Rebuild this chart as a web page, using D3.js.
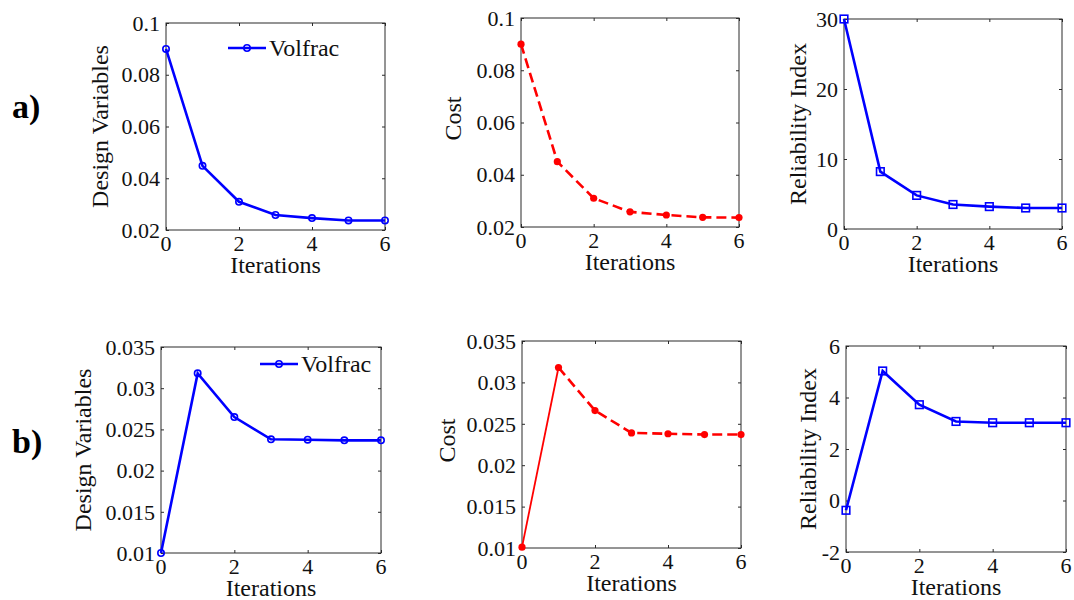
<!DOCTYPE html>
<html lang="en">
<head>
<meta charset="UTF-8">
<title>Iteration history</title>
<script src="https://d3js.org/d3.v7.min.js"></script>
<style>
  body { margin: 0; background: #fff; }
  text { font-family: 'Liberation Serif', 'DejaVu Serif', serif; }
</style>
</head>
<body>
<div id="chart"></div>
<script>
// data
const iterations = [0, 1, 2, 3, 4, 5, 6];
const designA = [0.09, 0.0448, 0.0309, 0.0258, 0.0246, 0.0237, 0.0237];
const costA = [0.09, 0.0450, 0.0310, 0.0258, 0.0246, 0.0237, 0.0236];
const reliabilityA = [30, 8.2, 4.8, 3.5, 3.2, 3.0, 3.0];
const designB = [0.01, 0.0318, 0.0265, 0.0238, 0.02375, 0.02367, 0.02367];
const costB = [0.0101, 0.0318, 0.0266, 0.0239, 0.0238, 0.0237, 0.0237];
const reliabilityB = [-0.38, 5.03, 3.72, 3.07, 3.02, 3.02, 3.02];

const xTicks = [0, 2, 4, 6];
const ticksA = [0.02, 0.04, 0.06, 0.08, 0.1];
const ticksRelA = [0, 10, 20, 30];
const ticksB = [0.01, 0.015, 0.02, 0.025, 0.03, 0.035];
const ticksRelB = [-2, 0, 2, 4, 6];
const legendLabel = "Volfrac";
const rowLabels = ["a)", "b)"];

const W = 1074, H = 600;
const FONT = "'Liberation Serif', 'DejaVu Serif', serif";
const svg = d3.select("#chart").append("svg").attr("width", W).attr("height", H)
  .attr("font-family", FONT);

// panel layout
const panels = [
  { box: [166, 23, 385, 230], y: designA, dom: [0.02, 0.1], ticks: ticksA, label: "Design Variables", lx: 100, kind: "design", legend: [228, 48] },
  { box: [521, 18, 739, 227], y: costA, dom: [0.02, 0.1], ticks: ticksA, label: "Cost", lx: 453, kind: "cost" },
  { box: [844, 19, 1062, 229], y: reliabilityA, dom: [0, 30], ticks: ticksRelA, label: "Reliability Index", lx: 798, kind: "rel" },
  { box: [161, 347, 381, 553], y: designB, dom: [0.01, 0.035], ticks: ticksB, label: "Design Variables", lx: 83, kind: "design", legend: [260, 364] },
  { box: [522, 341, 741, 548], y: costB, dom: [0.01, 0.035], ticks: ticksB, label: "Cost", lx: 447, kind: "cost", firstSolid: true },
  { box: [846, 346, 1066, 552], y: reliabilityB, dom: [-2, 6], ticks: ticksRelB, label: "Reliability Index", lx: 808, kind: "rel" }
];

const axisColor = "#2b2b2b";
const tickLen = 3;

panels.forEach(p => {
  const [x0, y0, x1, y1] = p.box;
  const x = d3.scaleLinear().domain([0, 6]).range([x0, x1]);
  const y = d3.scaleLinear().domain(p.dom).range([y1, y0]);
  const g = svg.append("g");

  // inward ticks on all four sides
  g.append("g").attr("transform", `translate(0,${y1})`)
    .call(d3.axisBottom(x).tickValues(xTicks).tickSizeInner(-tickLen).tickSizeOuter(0).tickFormat(""));
  g.append("g").attr("transform", `translate(0,${y0})`)
    .call(d3.axisTop(x).tickValues(xTicks).tickSizeInner(-tickLen).tickSizeOuter(0).tickFormat(""));
  g.append("g").attr("transform", `translate(${x0},0)`)
    .call(d3.axisLeft(y).tickValues(p.ticks).tickSizeInner(-tickLen).tickSizeOuter(0).tickFormat(""));
  g.append("g").attr("transform", `translate(${x1},0)`)
    .call(d3.axisRight(y).tickValues(p.ticks).tickSizeInner(-tickLen).tickSizeOuter(0).tickFormat(""));
  g.selectAll(".domain").remove();
  g.selectAll(".tick line").attr("stroke", axisColor);

  g.append("rect").attr("x", x0).attr("y", y0).attr("width", x1 - x0).attr("height", y1 - y0)
    .attr("fill", "none").attr("stroke", axisColor).attr("stroke-width", 1);

  // tick labels
  g.selectAll(".xl").data(xTicks).join("text")
    .attr("x", d => x(d)).attr("y", y1 + 21)
    .attr("font-family", FONT)
    .attr("text-anchor", "middle").attr("font-size", 22).attr("fill", "#111")
    .text(d => d);
  g.selectAll(".yl").data(p.ticks).join("text")
    .attr("x", x0 - 6).attr("y", d => y(d)).attr("dy", "0.35em")
    .attr("font-family", FONT)
    .attr("text-anchor", "end").attr("font-size", 22).attr("fill", "#111")
    .text(d => String(d));

  // axis labels
  g.append("text").attr("x", (x0 + x1) / 2).attr("y", y1 + 43)
    .attr("font-family", FONT)
    .attr("text-anchor", "middle").attr("font-size", 24).attr("fill", "#111").text("Iterations");
  const ly = (y0 + y1) / 2 + (p.kind === "cost" ? -4 : 0);
  g.append("text").attr("transform", `translate(${p.lx},${ly}) rotate(-90)`)
    .attr("font-family", FONT)
    .attr("text-anchor", "middle").attr("dy", "0.35em")
    .attr("font-size", 24).attr("fill", "#111").text(p.label);

  const pts = iterations.map((t, i) => [x(t), y(p.y[i])]);
  const line = d3.line();

  if (p.kind === "cost") {
    const red = "#ff0000";
    if (p.firstSolid) {
      g.append("path").attr("d", line(pts.slice(0, 2))).attr("fill", "none")
        .attr("stroke", red).attr("stroke-width", 1.8);
      g.append("path").attr("d", line(pts.slice(1))).attr("fill", "none")
        .attr("stroke", red).attr("stroke-width", 2.6).attr("stroke-dasharray", "10,5");
    } else {
      g.append("path").attr("d", line(pts)).attr("fill", "none")
        .attr("stroke", red).attr("stroke-width", 2.6).attr("stroke-dasharray", "10,5");
    }
    g.selectAll(".m").data(pts).join("circle")
      .attr("cx", d => d[0]).attr("cy", d => d[1]).attr("r", 3.6).attr("fill", red);
  } else {
    const blue = "#0000ff";
    g.append("path").attr("d", line(pts)).attr("fill", "none")
      .attr("stroke", blue).attr("stroke-width", 2.6);
    if (p.kind === "design") {
      g.selectAll(".m").data(pts).join("circle")
        .attr("cx", d => d[0]).attr("cy", d => d[1]).attr("r", 3.2)
        .attr("fill", "none").attr("stroke", blue).attr("stroke-width", 1.6);
    } else {
      g.selectAll(".m").data(pts).join("rect")
        .attr("x", d => d[0] - 3.8).attr("y", d => d[1] - 3.8).attr("width", 7.6).attr("height", 7.6)
        .attr("fill", "none").attr("stroke", blue).attr("stroke-width", 1.6);
    }
  }

  // legend
  if (p.legend) {
    const [lx, lyy] = p.legend;
    g.append("line").attr("x1", lx).attr("x2", lx + 38).attr("y1", lyy).attr("y2", lyy)
      .attr("stroke", "#0000ff").attr("stroke-width", 2.5);
    g.append("circle").attr("cx", lx + 19).attr("cy", lyy).attr("r", 3.2)
      .attr("fill", "none").attr("stroke", "#0000ff").attr("stroke-width", 1.6);
    g.append("text").attr("x", lx + 41).attr("y", lyy).attr("dy", "0.33em")
      .attr("font-family", FONT)
      .attr("font-size", 24).attr("fill", "#111").text(legendLabel);
  }
});

// row labels
svg.selectAll(".row").data(rowLabels).join("text")
  .attr("x", 12).attr("y", (d, i) => i === 0 ? 118 : 453)
  .attr("font-family", FONT)
  .attr("font-size", 34).attr("font-weight", "bold").attr("fill", "#000")
  .text(d => d);
</script>
</body>
</html>
